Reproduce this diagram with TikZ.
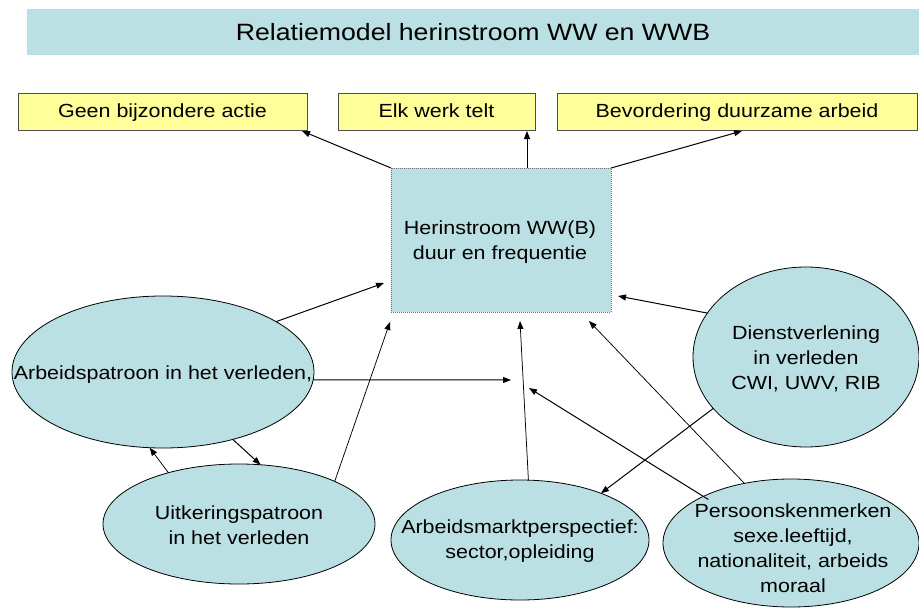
\documentclass[tikz,border=0pt]{standalone}
\usepackage{fontspec}
\setmainfont{Liberation Sans}[FakeStretch=1.13]
\usetikzlibrary{shapes.geometric,arrows.meta,calc,shadows}
\definecolor{lblue}{HTML}{BBE0E3}
\definecolor{lyel}{HTML}{FFFF99}
\begin{document}
\begin{tikzpicture}[x=1pt,y=-1pt,
  oval/.style={ellipse,draw=black,line width=0.8pt,fill=lblue,inner sep=0pt,outer sep=0pt},
  ybox/.style={draw=black!70,line width=1pt,fill=lyel,inner sep=0pt,outer sep=0pt,
     text height=16pt,text depth=4pt,font=\fontsize{19}{25}\selectfont,
     drop shadow={shadow xshift=1.2pt,shadow yshift=-1.2pt,fill=black!85,opacity=1}},
  txt/.style={align=center,font=\fontsize{19}{25}\selectfont,inner sep=0pt},
  arr/.style={-{Triangle[length=8pt,width=6pt]},line width=1pt},
  tarr/.style={arr,line width=0.75pt}]
\useasboundingbox (0,0) rectangle (919,608);
% title
\node[fill=lblue,minimum width=892pt,minimum height=46pt,inner sep=0pt,
      font=\fontsize{23.6}{28}\selectfont] (T) at (473,32) {Relatiemodel herinstroom WW en WWB};
% yellow boxes
\node[ybox,minimum width=289pt,minimum height=37pt] (Y1) at (162.5,111.5) {Geen bijzondere actie};
\node[ybox,minimum width=197pt,minimum height=37pt] (Y2) at (436.5,111.5) {Elk werk telt};
\node[ybox,minimum width=360pt,minimum height=37pt] (Y3) at (737,111.5) {Bevordering duurzame arbeid};
% central box
\node[draw=black!55,line width=0.8pt,dash pattern=on 1pt off 1pt,fill=lblue,
      minimum width=220pt,minimum height=144pt,inner sep=0pt,outer sep=0pt] (B) at (501,240) {};
\node[txt] (Bt) at (500,242) {Herinstroom WW(B)\\ duur en frequentie};
% ellipses
\node[oval,minimum width=302pt,minimum height=152pt] (A) at (163,372) {};
\node[oval,minimum width=272pt,minimum height=120pt] (U) at (239,524) {};
\node[oval,minimum width=258pt,minimum height=120pt] (M) at (520,540) {};
\node[oval,minimum width=256pt,minimum height=128pt] (P) at (791,543) {};
\node[oval,minimum width=226pt,minimum height=180pt] (D) at (806,357) {};
\node[txt] (At) at (163,375) {Arbeidspatroon in het verleden,};
\node[txt] (Ut) at (239,525) {Uitkeringspatroon\\in het verleden};
\node[txt] (Mt) at (520,541) {Arbeidsmarktperspectief:\\sector,opleiding};
\node[txt] (Pt) at (793,548) {Persoonskenmerken\\sexe.leeftijd,\\nationaliteit, arbeids\\moraal};
\node[txt] (Dt) at (806,359) {Dienstverlening\\ in verleden\\CWI, UWV, RIB};
% free ends
\coordinate (m1) at (511,380);
\coordinate (m2) at (529,388);
\coordinate (b2) at ($(B.north)+(26,0)$);
% connectors
\draw[arr] (B.north west) -- ($(Y1.south east)+(-5,1)$);
\draw[arr] (b2) -- ($(b2 |- Y2.south)+(0,1)$);
\draw[arr] (B.north east) -- ($(Y3.south)+(5,1)$);
\draw[arr] (A.24.5) -- ($(B.south west)+(-7,-29)$);
\draw[arr] (D.156) -- ($(B.south east)+(7,-16)$);
\draw[tarr] (U.24) -- ($(B.south west)+(-1,10)$);
\draw[arr] (A.-3) -- (m1);
\draw[tarr] (M.82.5) -- ($(B.south)+(19,9)$);
\draw[arr,shorten <=-6pt] (P.152) -- (m2);
\draw[tarr] (P.128) -- ($(B.south east)+(-22,9)$);
\draw[arr] (D.209) -- (M.30);
\draw[arr] (A.-44.6) -- (U.70);
\draw[tarr] (U.144.4) -- (A.-100);
\end{tikzpicture}
\end{document}
